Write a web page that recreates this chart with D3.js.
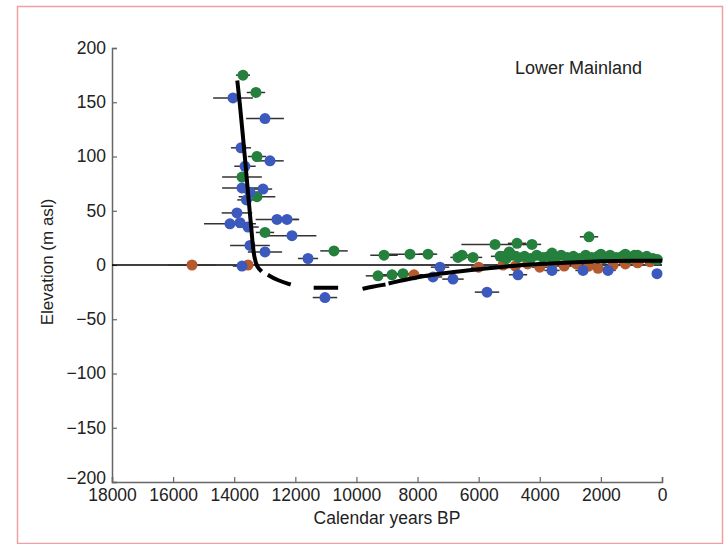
<!DOCTYPE html>
<html><head><meta charset="utf-8">
<script src="https://cdn.jsdelivr.net/npm/d3@7"></script>
<style>body{margin:0;background:#fff}svg{display:block}text{font-family:"Liberation Sans",Arial,sans-serif;fill:#222}</style>
</head><body><svg id="c" width="725" height="544"></svg>
<script>
// [age (cal yr BP), elevation (m asl), half-width of age error]
const bluePoints = [
  [14040,154,650],[12993,135,620],[13779,108,330],[12830,96,450],[13648,91,350],
  [13746,71,650],[13485,67,300],[13058,70,300],[13600,60,300],[13910,48,500],
  [13811,39,400],[14139,38,850],[13549,35,350],[12600,42,700],[12273,42,400],
  [12110,27,800],[13485,18,650],[12993,12,560],[11585,6,330],[13746,-1,300],
  [11030,-30,400],[7266,-2,300],[7495,-11,300],[6840,-13,350],[5727,-25,400],
  [4713,-9,300],[3600,-5,250],[2585,-5,250],[1767,-5,250],[164,-8,150]
];
const greenPoints = [
  [13713,175,230],[13288,159,300],[13255,100,300],[13746,81,650],[13255,63,600],
  [12993,30,300],[10735,13,450],[9098,9,450],[8248,10,800],[7658,10,300],
  [9295,-10,400],[8837,-9,300],[8477,-8,300],[6676,7,250],[6545,9,300],
  [6185,7,300],[5465,19,1100],[4745,20,300],[4255,19,300],[2389,26,300],
  [5300,8,300],[5100,6,250],[4900,9,300],[4700,7,250],[4500,8,300],[4300,6,250],
  [4100,9,300],[3900,7,250],[3700,8,300],[3500,6,250],[3300,9,300],[3100,7,250],
  [2900,8,300],[2700,6,250],[2500,9,300],[2300,7,250],[2100,8,300],[1900,6,250],
  [1700,9,300],[1500,7,250],[1300,8,300],[1100,6,250],[900,9,300],[700,7,250],
  [500,8,250],[300,6,200],[150,5,150],[5000,12,300],[3600,11,250],[2000,10,250],
  [1200,10,250],[800,9,200]
];
const orangePoints = [
  [15382,0,800],[13549,0,300],[8117,-9,300],[6000,-2,250],[5200,0,250],[4800,-1,250],
  [4400,1,250],[4000,-2,250],[3600,0,250],[3200,-1,250],[2800,1,250],[2400,-1,250],
  [2094,-3,200],[1600,0,250],[1200,1,200],[800,2,200],[393,3,150]
];
// sea-level curve; null marks a break in the curve
const curveSolid = [[13900,170],[13820,150],[13720,120],[13620,90],[13530,60],[13460,40],[13400,20],[13340,6],[13250,-2],[13100,-6]];
const curveDashed = [
  [12900,-9],[12600,-14],[12150,-18],null,
  [11400,-21],[10600,-21],null,
  [9800,-22],[9500,-20],[9050,-18],null,
  [8950,-17],[8000,-11],[7000,-7],[6000,-4],[5000,-1],[4000,1],[3000,2.5],[2000,3.5],[1000,4],[0,4]
];
const xTicks = [18000,16000,14000,12000,10000,8000,6000,4000,2000,0];
const yTicks = [200,150,100,50,0,-50,-100,-150,-200];
const colors = {blue:"#3c59bd", green:"#24803c", orange:"#b5592e"};

const svg = d3.select("#c");
svg.append("rect").attr("x",17.5).attr("y",6.5).attr("width",705).attr("height",537)
  .attr("fill","none").attr("stroke","#f0a0a0").attr("stroke-width",1.5);

const x = d3.scaleLinear().domain([18000,0]).range([112,662]);
const y = d3.scaleLinear().domain([-200,200]).range([482,48]);

const gx = svg.append("g").attr("transform","translate(0,482)")
  .call(d3.axisBottom(x).tickValues(xTicks).tickSize(-5).tickPadding(7).tickFormat(d3.format("d")));
const gy = svg.append("g").attr("transform","translate(112,0)")
  .call(d3.axisLeft(y).tickValues(yTicks).tickSize(-5).tickPadding(6).tickFormat(d=>d<0?"\u2212"+(-d):d));
[gx,gy].forEach(g=>{
  g.select(".domain").attr("stroke","#666").attr("stroke-width",1.5);
  g.selectAll(".tick line").attr("stroke","#666").attr("stroke-width",1.2);
  g.selectAll(".tick text").attr("font-size",17.5).attr("fill","#222").style("font-family","'Liberation Sans',Arial,sans-serif");
});
gy.selectAll(".tick text").attr("dy","0.3em");
gy.selectAll(".tick").filter(d=>d===-200).select("text").attr("dy","0.1em");

// zero line
svg.append("line").attr("x1",x(18000)).attr("x2",x(0)).attr("y1",y(0)).attr("y2",y(0))
  .attr("stroke","#000").attr("stroke-width",1.3);

const series = [["orange",orangePoints],["blue",bluePoints],["green",greenPoints]];
const gErr = svg.append("g"), gPts = svg.append("g");
series.forEach(([c,pts])=>{
  gErr.selectAll(null).data(pts).join("line")
    .attr("x1",d=>x(d[0]+d[2])).attr("x2",d=>x(d[0]-d[2]))
    .attr("y1",d=>y(d[1])).attr("y2",d=>y(d[1]))
    .attr("stroke","#333").attr("stroke-width",1.5);
});
[["orange",orangePoints],["green",greenPoints],["blue",bluePoints]].forEach(([c,pts])=>{
  gPts.selectAll(null).data(pts).join("circle")
    .attr("cx",d=>x(d[0])).attr("cy",d=>y(d[1])).attr("r",5.5).attr("fill",colors[c]);
});

const line2 = d3.line().defined(d=>d!==null).x(d=>x(d[0])).y(d=>y(d[1])).curve(d3.curveBasis);
svg.append("path").attr("d",line2(curveSolid)).attr("fill","none").attr("stroke","#000").attr("stroke-width",4);
svg.append("path").attr("d",line2(curveDashed)).attr("fill","none").attr("stroke","#000").attr("stroke-width",4);

svg.append("text").attr("x",515).attr("y",74).attr("font-size",18).text("Lower Mainland");
svg.append("text").attr("x",387).attr("y",524).attr("text-anchor","middle").attr("font-size",17.5).text("Calendar years BP");
svg.append("text").attr("transform","translate(53,262) rotate(-90)").attr("text-anchor","middle").attr("font-size",17).text("Elevation (m asl)");
</script></body></html>
